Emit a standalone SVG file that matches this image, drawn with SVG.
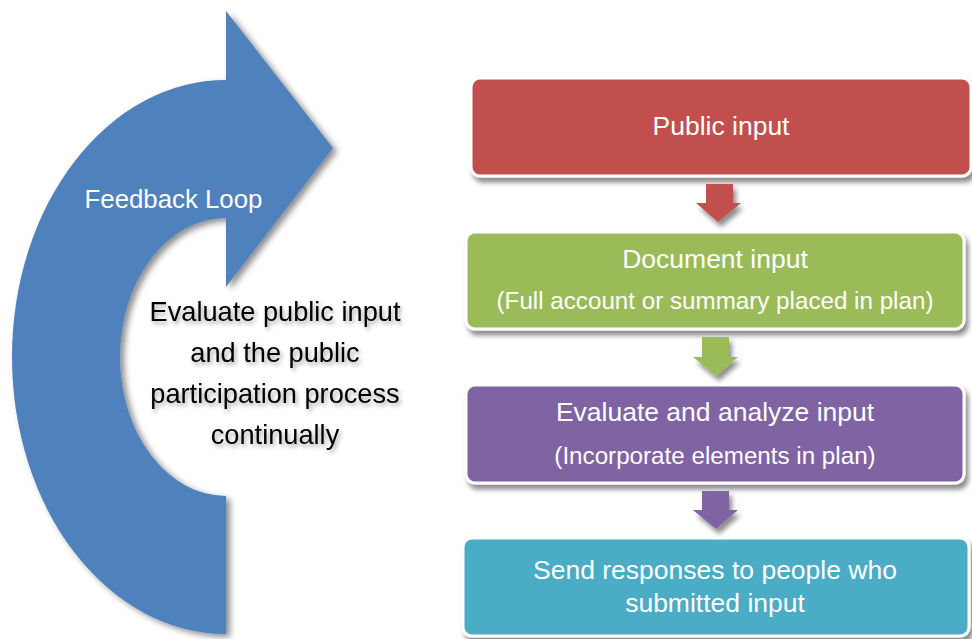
<svg xmlns="http://www.w3.org/2000/svg" width="972" height="639" viewBox="0 0 972 639">
  <defs>
    <filter id="sh" x="-10%" y="-10%" width="130%" height="140%">
      <feDropShadow dx="3" dy="5" stdDeviation="2.5" flood-color="#000" flood-opacity="0.45"/>
    </filter>
    <filter id="shBig" x="-10%" y="-10%" width="130%" height="130%">
      <feDropShadow dx="4" dy="3" stdDeviation="3" flood-color="#000" flood-opacity="0.45"/>
    </filter>
    <filter id="shText" x="-10%" y="-30%" width="130%" height="170%">
      <feDropShadow dx="2" dy="3" stdDeviation="2" flood-color="#000" flood-opacity="0.35"/>
    </filter>
    <style>
      .box { stroke: #ffffff; stroke-width: 3; filter: url(#sh); }
      .lbl { font-family: "Liberation Sans", Arial, sans-serif; fill: #ffffff; text-anchor: middle; }
      .big { font-size: 26.5px; }
      .sub { font-size: 24.2px; }
      .dark { font-family: "Liberation Sans", Arial, sans-serif; fill: #000000; text-anchor: middle; font-size: 27.2px; filter: url(#shText); }
      .arr { filter: url(#sh); }
    </style>
  </defs>

  <g id="feedback-loop">
    <path d="M226,80 L226,11 L333,148 L226,287 L226,218 A106,139 0 0 0 120,357 A106,139 0 0 0 226,496 L226,634 A214,277 0 0 1 12,357 A214,277 0 0 1 226,80 Z" fill="#4F81BD" filter="url(#shBig)"/>
    <text class="lbl" x="173.5" y="208" font-size="25.8">Feedback Loop</text>
  </g>

  <g id="evaluate-text">
    <text class="dark" x="275" y="321">Evaluate public input</text>
    <text class="dark" x="275" y="362">and the public</text>
    <text class="dark" x="275" y="403">participation process</text>
    <text class="dark" x="275" y="444">continually</text>
  </g>

  <g id="public-input">
    <rect class="box" x="471" y="78" width="500" height="98" rx="9" fill="#C0504D"/>
    <text class="lbl big" x="721" y="135">Public input</text>
  </g>

  <g id="document-input">
    <rect class="box" x="466" y="232" width="498" height="97" rx="9" fill="#9BBB59"/>
    <text class="lbl big" x="715" y="268">Document input</text>
    <text class="lbl sub" x="715" y="309">(Full account or summary placed in plan)</text>
  </g>

  <g id="evaluate-analyze">
    <rect class="box" x="466" y="385" width="498" height="98" rx="9" fill="#8064A2"/>
    <text class="lbl big" x="715" y="421">Evaluate and analyze input</text>
    <text class="lbl sub" x="715" y="464">(Incorporate elements in plan)</text>
  </g>

  <g id="send-responses">
    <rect class="box" x="463" y="538" width="506" height="98" rx="9" fill="#4BACC6"/>
    <text class="lbl big" x="715" y="579">Send responses to people who</text>
    <text class="lbl big" x="715" y="612">submitted input</text>
  </g>

  <g id="connectors">
    <path class="arr" d="M706,184 L733,184 L733,203 L741,203 L718,222 L696,203 L706,203 Z" fill="#C0504D"/>
    <path class="arr" d="M702,337 L729,337 L729,357 L738,357 L716,376 L693,357 L702,357 Z" fill="#9BBB59"/>
    <path class="arr" d="M702,491 L729,491 L729,510 L738,510 L716,529 L693,510 L702,510 Z" fill="#8064A2"/>
  </g>
</svg>
